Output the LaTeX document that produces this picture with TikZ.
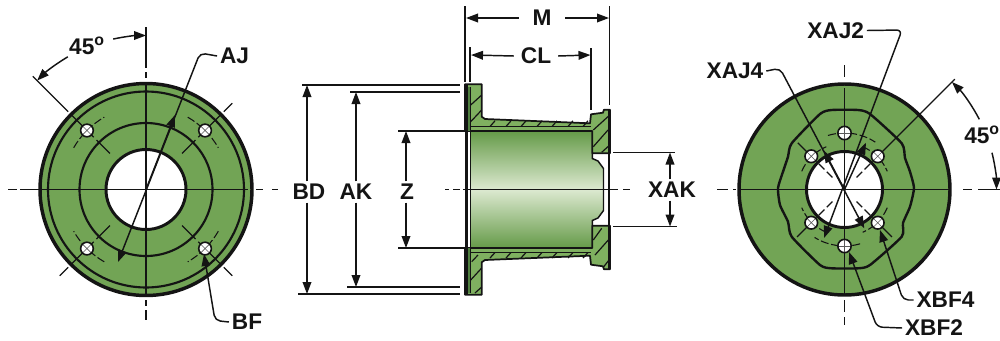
\documentclass[tikz,border=0pt]{standalone}
\usepackage{fontspec}
\setmainfont{Liberation Sans}
\usepackage{tikz}
\usetikzlibrary{arrows.meta,calc}

\definecolor{facegreen}{HTML}{72A455}
\definecolor{sectgreen}{HTML}{7FB060}
\definecolor{boredark}{HTML}{659A48}
\definecolor{borelight}{HTML}{DCE9D0}
\definecolor{stripdark}{HTML}{4F7F3F}
\definecolor{inkblack}{HTML}{141414}

\tikzset{
    lbl/.style={font=\fontsize{17}{17}\selectfont\bfseries,text=inkblack,inner sep=2pt},
    face/.style={fill=facegreen,draw=inkblack,line width=2.6pt},
    ring/.style={draw=inkblack,line width=1.6pt},
    bore/.style={fill=white,draw=inkblack,line width=2.2pt},
    centre/.style={draw=inkblack,line width=1pt},
    thindash/.style={draw=inkblack,line width=0.8pt,dash pattern=on 6pt off 2pt},
    dimline/.style={draw=inkblack,line width=1.1pt,-{Triangle[length=9pt,width=6.5pt]}},
    leader/.style={dimline,rounded corners=4pt},
    extline/.style={draw=inkblack,line width=1.1pt},
    hatch/.style={draw=inkblack,line width=0.9pt},
    boltx/.style={circle,draw=inkblack,fill=white,line width=1.2pt,minimum size=9.5pt,inner sep=0pt,
        path picture={\draw[line width=0.5pt,draw=inkblack!70]
            (path picture bounding box.north east) -- (path picture bounding box.south west)
            (path picture bounding box.north west) -- (path picture bounding box.south east);}},
    boltplus/.style={circle,draw=inkblack,fill=white,line width=1.2pt,minimum size=10pt,inner sep=0pt,
        path picture={\draw[line width=0.5pt,draw=inkblack!70]
            (path picture bounding box.north) -- (path picture bounding box.south)
            (path picture bounding box.west) -- (path picture bounding box.east);}},
}

\begin{document}
\begin{tikzpicture}[x=0.75pt,y=-0.75pt]
    \useasboundingbox (0,0) rectangle (1000,340);

    % left view
    \coordinate (cl) at (146,189.5);
    \path[face] (cl) circle (106);
    \path[ring] (cl) circle (98);
    \path[ring] (cl) circle (66.5);
    \path[bore] (cl) circle (40);
    \draw[centre] (8,189.5) -- (17,189.5) (20,189.5) -- (248,189.5) (256,189.5) -- (263,189.5) (272,189.5) -- (278,189.5);
    \draw[centre] (146,27) -- (146,68) (146,72) -- (146,78) (146,83) -- (146,295) (146,300) -- (146,306) (146,310) -- (146,320);
    \foreach \a in {-45,45,135} {
        \draw[centre] ([shift={(\a:51)}]cl) -- ([shift={(\a:70)}]cl);
        \draw[centre] ([shift={(\a:74)}]cl) -- ([shift={(\a:105)}]cl);
        \draw[centre] ([shift={(\a:110)}]cl) -- ([shift={(\a:122)}]cl);
    }
    \draw[centre] ([shift={(-135:51)}]cl) -- ([shift={(-135:70)}]cl);
    \draw[centre] ([shift={(-135:74)}]cl) -- ([shift={(-135:105)}]cl);
    \draw[centre] ([shift={(-135:110)}]cl) -- ([shift={(-135:160)}]cl);
    \foreach \a in {-135,-45,45,135} {
        \draw[thindash] ([shift={(\a-15:83.5)}]cl) arc (\a-15:\a+15:83.5);
    }
    \node[boltx] (lb1) at ([shift={(-135:83.5)}]cl) {};
    \node[boltx] (lb2) at ([shift={(-45:83.5)}]cl) {};
    \node[boltx] (lb3) at ([shift={(135:83.5)}]cl) {};
    \node[boltx] (lb4) at ([shift={(45:83.5)}]cl) {};

    \node[lbl] (aj) at (234.5,56) {AJ};
    \node[lbl] (bf) at (247,322) {BF};
    \node[lbl] (ang1) at (87,46) {45\textsuperscript{o}};
    \coordinate (ajbend) at (200,53);
    \coordinate (ajlow) at (118,262);
    \coordinate (ajup) at (175,115);
    \coordinate (bfbend) at (215,320.5);
    \coordinate (bftip) at (204,254);
    \draw[leader] (aj.west) -- (ajbend) -- (ajlow);
    \draw[dimline] (cl) -- (ajup);
    \draw[leader] (bf.west) -- (bfbend) -- (bftip);
    \draw[dimline] ([shift={(-102.3:154)}]cl) arc (-102.3:-90:154);
    \draw[dimline] ([shift={(-120.5:154)}]cl) arc (-120.5:-135:154);

    % middle view, bore first and the section over it
    \shade[top color=boredark,bottom color=boredark,middle color=borelight]
        (470,131) -- (592.3,131) -- (592.3,158.5) -- (598,161) -- (603.5,168.5) -- (603.5,210.5)
        -- (598,218) -- (592.3,220.5) -- (592.3,248) -- (470,248) -- cycle;
    \draw[extline] (592.3,153.3) -- (592.3,158.5) -- (598,161) -- (603.5,168.5) -- (603.5,210.5)
        -- (598,218) -- (592.3,220.5) -- (592.3,225.7);
    \foreach \sgn in {1,-1} {
        \begin{scope}[shift={(0,189.5)},yscale=\sgn]
            \draw[fill=sectgreen,draw=inkblack,line width=1.3pt,line join=round]
                (465,-105.2) -- (481.7,-105.2) -- (481.7,-72.8) -- (485,-70.5) -- (590,-66.2)
                -- (591,-75.2) -- (603,-76.8) -- (604,-79.8) -- (610,-79.8) -- (610,-36.2)
                -- (592.3,-36.2) -- (592.3,-58.5) -- (465,-58.5) -- cycle;
            \fill[stripdark] (467,-103) rectangle (470.7,-58.5);
            \draw[hatch] (470.7,-103) -- (470.7,-58.5);
            \draw[hatch,line width=0.7pt] (470.7,-63) -- (591,-63);
        \end{scope}
    }
    \foreach \xa/\ya/\xb/\yb in {470.7/105/481.7/95, 470.7/121.7/481.7/110, 593.3/130/609/115.7, 593.3/146.7/608/130, 601.7/152.3/609/145.7,
        471.7/261.7/478/255, 470.7/280/481.7/268, 475/293/481.7/287, 593.3/240/601.7/228.3, 595/255/608.3/240, 603.3/267.3/609/260} {
        \draw[hatch] (\xa,\ya) -- (\xb,\yb);
    }
    \foreach \xa in {490,506,521,537,552,568,583} {
        \draw[hatch] (\xa,126.5) -- (\xa+5,120.8);
        \draw[hatch] (\xa,258) -- (\xa+5,252.5);
    }
    \draw[draw=inkblack,line width=2.8pt] (466.5,84.3) -- (466.5,294.7);
    \draw[draw=inkblack,line width=2pt] (609,109.7) -- (609,269.3);
    \draw[hatch] (470.7,131) -- (470.7,248);
    \draw[centre] (445,189.5) -- (449,189.5) (453,189.5) -- (460,189.5) (463,189.5) -- (618,189.5) (623,189.5) -- (630,189.5);

    \node[lbl,inner xsep=10pt] (m) at (542,18) {M};
    \node[lbl,inner xsep=5pt] (clen) at (536,56) {CL};
    \node[lbl] (bd) at (309,192) {BD};
    \node[lbl] (ak) at (356,192) {AK};
    \node[lbl] (z) at (407,192) {Z};
    \node[lbl] (xak) at (672,190) {XAK};
    \coordinate (mleft) at (466,18);
    \coordinate (mright) at (609,18);
    \coordinate (clleft) at (471,55);
    \coordinate (clright) at (590.5,55);
    \coordinate (bdtop) at (307,85);
    \coordinate (bdbot) at (307,294);
    \coordinate (aktop) at (356,92);
    \coordinate (akbot) at (356,287);
    \coordinate (ztop) at (406,131);
    \coordinate (zbot) at (406,248);
    \coordinate (xaktop) at (670,152.5);
    \coordinate (xakbot) at (670,226.5);
    \draw[extline] (465,6) -- (465,82) (609.5,6) -- (609.5,105);
    \draw[extline] (470,47) -- (470,82) (591,48) -- (591,110);
    \draw[extline] (302,85) -- (460,85) (298,294) -- (460,294);
    \draw[extline] (350,92) -- (460,92) (347,287) -- (460,287);
    \draw[extline] (398,131) -- (465,131) (398,248) -- (465,248);
    \draw[extline] (613,152.5) -- (675,152.5) (613,226.5) -- (677,226.5);
    \draw[dimline] (m.west) -- (mleft);
    \draw[dimline] (m.east) -- (mright);
    \draw[dimline] (clen.west) -- (clleft);
    \draw[dimline] (clen.east) -- (clright);
    \draw[dimline] (bd.north -| bdtop) -- (bdtop);
    \draw[dimline] (bd.south -| bdbot) -- (bdbot);
    \draw[dimline] (ak.north) -- (aktop);
    \draw[dimline] (ak.south) -- (akbot);
    \draw[dimline] (z.north -| ztop) -- (ztop);
    \draw[dimline] (z.south -| zbot) -- (zbot);
    \draw[dimline] (xak.north -| xaktop) -- (xaktop);
    \draw[dimline] (xak.south -| xakbot) -- (xakbot);

    % right view
    \coordinate (cr) at (844.5,189.5);
    \path[face] (cr) circle (105.5);
    \draw[ring,line width=1.8pt] plot[smooth cycle,tension=0.35] coordinates {
        (831.7,110) (858,110) (870,114) (901.7,143.3) (905,158) (910,171.7) (914,188) (910,206.7)
        (903,223) (901.7,236.7) (870,265) (858,268.3) (831.7,268.3) (820,265) (791.7,236.7)
        (788,221.7) (780,205) (778,188) (783,171.7) (788,156.7) (791.7,143.3) (820,114)};
    \path[bore] (cr) circle (38);
    \draw[centre] (717,189.5) -- (728,189.5) (733,189.5) -- (736,189.5) (739,189.5) -- (950,189.5) (963,189.5) -- (972,189.5) (978,189.5) -- (1000,189.5);
    \draw[centre] (844.5,65) -- (844.5,77) (844.5,88) -- (844.5,295) (844.5,300) -- (844.5,312) (844.5,317) -- (844.5,325);
    \foreach \a in {-135,-45,45,135} {
        \draw[centre,dash pattern=on 6pt off 2.5pt] ([shift={(\a:17)}]cr) -- ([shift={(\a:42)}]cr);
        \draw[thindash] ([shift={(\a-22:46.5)}]cr) arc (\a-22:\a+22:46.5);
    }
    \draw[thindash] ([shift={(-107:56.5)}]cr) arc (-107:-57:56.5);
    \draw[thindash] ([shift={(74:56.5)}]cr) arc (74:122:56.5);
    \draw[centre] ([shift={(-45:47)}]cr) -- ([shift={(-45:156)}]cr);
    \draw[centre] ([shift={(-135:47)}]cr) -- ([shift={(-135:66)}]cr);
    \draw[centre] ([shift={(45:47)}]cr) -- ([shift={(45:67)}]cr);
    \draw[centre] ([shift={(135:47)}]cr) -- ([shift={(135:67)}]cr);
    \node[boltplus] (rb1) at ([shift={(-90:56.5)}]cr) {};
    \node[boltplus] (rb2) at ([shift={(90:56.5)}]cr) {};
    \node[boltx] (rb3) at ([shift={(-135:47)}]cr) {};
    \node[boltx] (rb4) at ([shift={(-45:47)}]cr) {};
    \node[boltx] (rb5) at ([shift={(135:47)}]cr) {};
    \node[boltx] (rb6) at ([shift={(45:47)}]cr) {};
    \fill[inkblack] (cr) circle (1.8);

    \node[lbl] (xajb) at (835.7,30.5) {XAJ2};
    \node[lbl] (xajd) at (735,71) {XAJ4};
    \node[lbl] (xbfd) at (945.5,300) {XBF4};
    \node[lbl] (xbfb) at (934,328) {XBF2};
    \node[lbl,anchor=west,inner sep=0pt] (ang2) at (964,135) {45\textsuperscript{o}};
    \coordinate (xajbbend) at (902,30);
    \coordinate (xajbtip) at (824,238);
    \coordinate (xajbup) at (866,142.7);
    \coordinate (xajdbend) at (780,68.3);
    \coordinate (xajdtip) at (864.3,228.3);
    \coordinate (xajdup) at (824,150.7);
    \coordinate (xbfdbend) at (903,300);
    \coordinate (xbfdtip) at (880,230);
    \coordinate (xbfbbend) at (877,327);
    \coordinate (xbfbtip) at (849,252);
    \draw[leader] (xajb.east) -- (xajbbend) -- (xajbtip);
    \draw[dimline] (cr) -- (xajbup);
    \draw[leader] (xajd.east) -- (xajdbend) -- (xajdtip);
    \draw[dimline] (cr) -- (xajdup);
    \draw[leader] (xbfd.west) -- (xbfdbend) -- (xbfdtip);
    \draw[leader] (xbfb.west) -- (xbfbbend) -- (xbfbtip);
    \draw[dimline] ([shift={(-27.5:152)}]cr) arc (-27.5:-45:152);
    \draw[dimline] ([shift={(-14:152)}]cr) arc (-14:0:152);
\end{tikzpicture}
\end{document}
